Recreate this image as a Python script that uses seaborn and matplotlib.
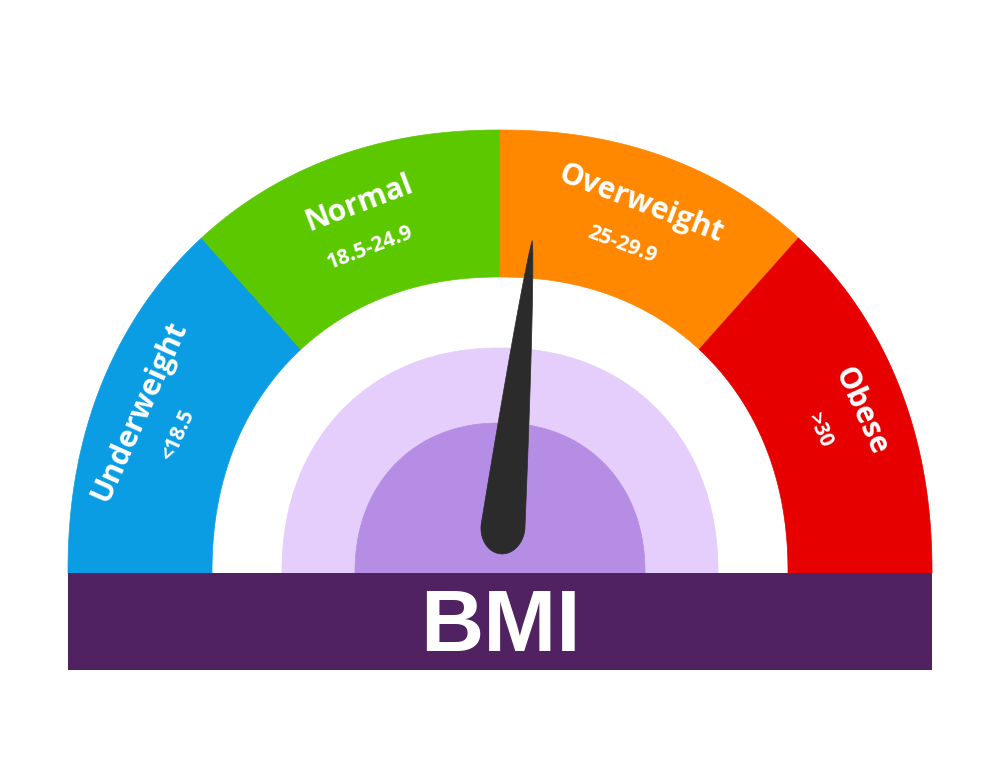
import numpy as np
import matplotlib
matplotlib.use("Agg")
import matplotlib.pyplot as plt
from matplotlib.patches import Polygon, Rectangle
import seaborn as sns

# gauge categories and their BMI ranges
categories = ["Underweight", "Normal", "Overweight", "Obese"]
range_labels = ["<18.5", "18.5-24.9", "25-29.9", ">30"]
bmi_edges = [12.0, 18.5, 25.0, 30.0, 40.0]
sector_deg = [48.3, 41.7, 41.7, 48.3]   # angular share of each band on the dial
needle_bmi = 25.7
title = "BMI"

band_colors = ["#0a9de4", "#5cc800", "#ff8800", "#e60000"]
disc_colors = ["#e5cefb", "#b58de4"]

sns.set_theme(style="white")
plt.rcParams["font.family"] = ["Open Sans", "DejaVu Sans"]

fig = plt.figure(figsize=(10, 7.8), dpi=100)
ax = fig.add_axes([0, 0, 1, 1])
ax.set_xlim(0, 1000)
ax.set_ylim(780, 0)
ax.axis("off")

# dial geometry in pixel space; rings are slightly squarish ovals
cx, cy = 500, 573
expo = 2.15
rings = {"out": (432, 443), "in": (288, 296), "disc1": (218, 225), "disc2": (145, 150)}


def radius(key, deg):
    a, b = rings[key]
    t = np.radians(deg)
    return 1.0 / ((np.abs(np.cos(t)) / a) ** expo + (np.abs(np.sin(t)) / b) ** expo) ** (1 / expo)


def pt(r, deg):
    t = np.radians(deg)
    return cx + r * np.cos(t), cy - r * np.sin(t)


def curve(key, a0, a1, n=200):
    return [pt(radius(key, t), t) for t in np.linspace(a0, a1, n)]


# boundaries of the bands, starting at the left (180 deg)
bounds = [180.0]
for d in sector_deg:
    bounds.append(bounds[-1] - d)

for i, cat in enumerate(categories):
    a0, a1 = bounds[i], bounds[i + 1]
    poly = curve("out", a0, a1) + curve("in", a1, a0)
    ax.add_patch(Polygon(poly, closed=True, fc=band_colors[i], ec=band_colors[i],
                         lw=0.5, zorder=2))
    mid = (a0 + a1) / 2
    x, y = pt(395, mid)
    ax.text(x, y, cat, color="white", fontsize=21.5, fontweight="bold",
            rotation=mid - 90, ha="center", va="center", zorder=5,
            rotation_mode="anchor")
    x, y = pt(350, mid + (1.0 if i < 2 else 0.5 if i == 2 else 0))
    ax.text(x, y, range_labels[i], color="white", fontsize=15,
            fontweight="bold", rotation=mid - 90, ha="center",
            va="center", zorder=5, rotation_mode="anchor")

# inner purple discs
for key, col in zip(["disc1", "disc2"], disc_colors):
    ax.add_patch(Polygon(curve(key, 0, 180) + [(cx, cy)], closed=True,
                         fc=col, ec=col, lw=0.5, zorder=2))

# needle: bmi mapped piecewise onto the dial angle
needle_deg = float(np.interp(needle_bmi, bmi_edges, bounds))
d = np.radians(needle_deg)
ux, uy = np.cos(d), -np.sin(d)      # screen direction (y down)
px_, py_ = -uy, ux                  # perpendicular
base_x, base_y = cx + 3, cy - 46
length, rb, depth = 288, 22, 27
s = np.linspace(0, 1, 150)
w = rb * (1 - s) ** 0.8
side_a = [(base_x + L * ux + ww * px_, base_y + L * uy + ww * py_)
          for L, ww in zip(s * length, w)]
side_b = [(base_x + L * ux - ww * px_, base_y + L * uy - ww * py_)
          for L, ww in zip(s * length, w)][::-1]
th = np.linspace(0, np.pi, 80)
cap = [(base_x - depth * np.sin(t) * ux - rb * np.cos(t) * px_,
        base_y - depth * np.sin(t) * uy - rb * np.cos(t) * py_) for t in th]
ax.add_patch(Polygon(side_a + side_b + cap, closed=True, fc="#2b2b2b",
                     ec="#2b2b2b", lw=0.5, zorder=6))

# title bar
ax.add_patch(Rectangle((68, 573), 864, 97, fc="#512262", ec="none", zorder=7))
ax.text(500, 651, title, color="white", fontsize=63, fontweight="bold",
        family=["Liberation Sans", "DejaVu Sans"], ha="center",
        va="baseline", zorder=8)

fig.savefig("out.png", dpi=100, facecolor="white")
